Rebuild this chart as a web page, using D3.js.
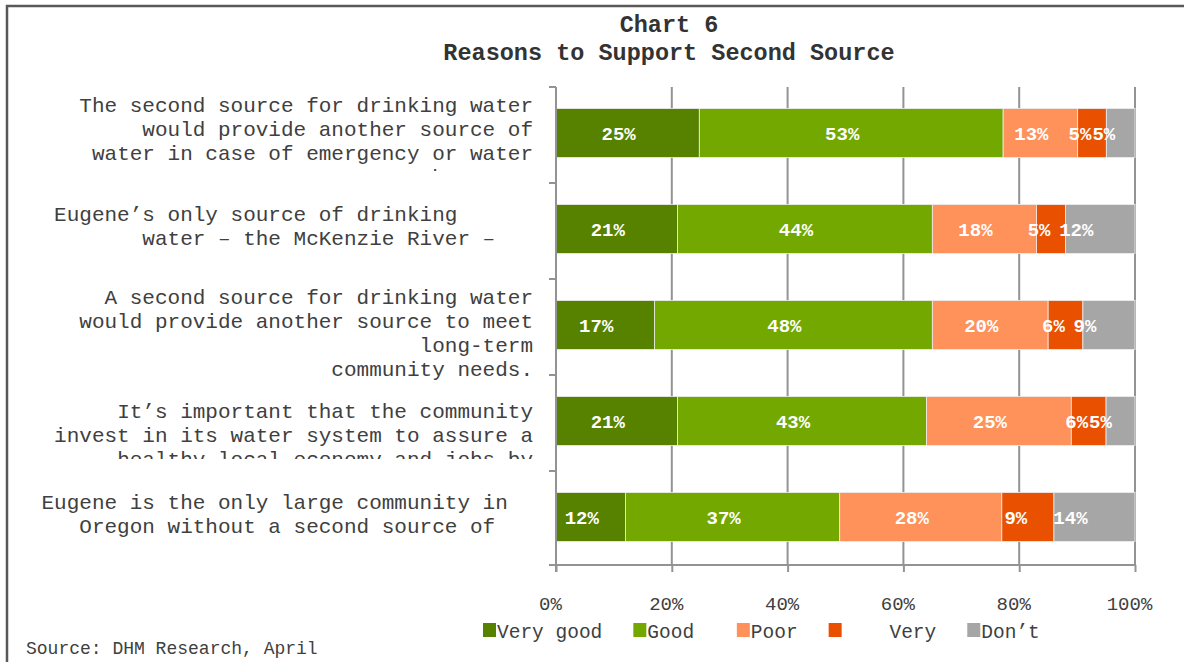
<!DOCTYPE html>
<html>
<head>
<meta charset="utf-8">
<style>
  body { margin: 0; background: #fff; }
  text { font-family: "Liberation Mono", "Courier New", monospace; }
</style>
</head>
<body>
<script src="https://cdn.jsdelivr.net/npm/d3@7/dist/d3.min.js"></script>
<script>
// --- data ---
var categories = ["Emergency backup", "Only source", "Long-term needs", "Local economy", "Only large community"];
var labelLines = [
    ["The second source for drinking water", "would provide another source of", "water in case of emergency or water", "shortage."],
    ["Eugene\u2019s only source of drinking      ", "water \u2013 the McKenzie River \u2013   "],
    ["A second source for drinking water", "would provide another source to meet", "long-term", "community needs."],
    ["It\u2019s important that the community", "invest in its water system to assure a", "healthy local economy and jobs by"],
    ["Eugene is the only large community in  ", "Oregon without a second source of   "]
];
// last line cut off by the label box in the original
var cutLast = [true, false, false, true, false];

var seriesNames = ["Very good", "Good", "Poor", "Very poor", "Don't know"];
var legendLabels = ["Very good", "Good ", "Poor", "    Very", "Don\u2019t"];
var veryGood = [25, 21, 17, 21, 12];
var good = [53, 44, 48, 43, 37];
var poor = [13, 18, 20, 25, 28];
var veryPoor = [5, 5, 6, 6, 9];
var dontKnow = [5, 12, 9, 5, 14];
var xTicks = [0, 20, 40, 60, 80, 100];

var colors = ["#568200", "#72a800", "#ff915a", "#e95100", "#a6a6a6"];
// label nudges per series (the original labels sit left of centre)
var labelShift = [-9, -9, -9, -12, -24];
var textColor = "#404040";

var width = 1184, height = 662;
var svg = d3.select("body").append("svg").attr("width", width).attr("height", height);

// frame
svg.append("path")
    .attr("d", "M7,662 V6 H1184")
    .attr("fill", "none").attr("stroke", "#595959").attr("stroke-width", 2.5);

// title
svg.append("text").attr("x", 669).attr("y", 32).attr("text-anchor", "middle")
    .attr("font-size", 23.5).attr("font-weight", "bold").attr("fill", "#333").text("Chart 6");
svg.append("text").attr("x", 669).attr("y", 60).attr("text-anchor", "middle")
    .attr("font-size", 23.5).attr("font-weight", "bold").attr("fill", "#333").text("Reasons to Support Second Source");

var rows = categories.map(function (c, i) {
    return { cat: c, "Very good": veryGood[i], "Good": good[i], "Poor": poor[i], "Very poor": veryPoor[i], "Don't know": dontKnow[i] };
});

var x = d3.scaleLinear().domain([0, 1]).range([556, 1135]);
var xPct = d3.scaleLinear().domain([0, 100]).range([556, 1135]);
var y = d3.scaleBand().domain(categories).range([85, 565]).paddingInner(0.49).paddingOuter(0.245);
var step = y.step();
var grid = "#939393";

// vertical gridlines
svg.append("g").selectAll("line").data(xTicks.slice(1)).join("line")
    .attr("x1", function (d) { return xPct(d); }).attr("x2", function (d) { return xPct(d); })
    .attr("y1", 87).attr("y2", 565)
    .attr("stroke", grid).attr("stroke-width", 2);

// stacked bars (100%)
var stacked = d3.stack().keys(seriesNames).offset(d3.stackOffsetExpand)(rows);

var layers = svg.append("g").selectAll("g").data(stacked).join("g")
    .attr("fill", function (d, i) { return colors[i]; });

layers.selectAll("rect").data(function (d) { return d; }).join("rect")
    .attr("x", function (d) { return x(d[0]); })
    .attr("width", function (d) { return x(d[1]) - x(d[0]); })
    .attr("y", function (d) { return y(d.data.cat); })
    .attr("height", y.bandwidth())
    .attr("stroke", "#ededed").attr("stroke-width", 0.8);

// value labels: nudged left like the original, then pushed apart so they don't collide
var labelG = svg.append("g");
categories.forEach(function (c, i) {
    var lastRight = -Infinity;
    stacked.forEach(function (layer, k) {
        var d = layer[i];
        var t = labelG.append("text")
            .attr("y", y(c) + y.bandwidth() / 2 + 7)
            .attr("text-anchor", "middle")
            .attr("font-size", 19).attr("font-weight", "bold").attr("fill", "#fff")
            .text(rows[i][layer.key] + "%");
        var w = t.node().getComputedTextLength();
        var cx = (x(d[0]) + x(d[1])) / 2 + labelShift[k];
        if (cx - w / 2 < lastRight + 1) cx = lastRight + 1 + w / 2;
        t.attr("x", cx);
        lastRight = cx + w / 2;
    });
});

// left axis line and category separators
svg.append("line").attr("x1", 556).attr("x2", 556).attr("y1", 87).attr("y2", 572)
    .attr("stroke", grid).attr("stroke-width", 2);
svg.append("g").selectAll("line").data(d3.range(categories.length)).join("line")
    .attr("x1", 549).attr("x2", 556)
    .attr("y1", function (i) { return 87 + i * step; })
    .attr("y2", function (i) { return 87 + i * step; })
    .attr("stroke", grid).attr("stroke-width", 2);

// bottom axis
var xAxis = d3.axisBottom(xPct).tickValues(xTicks).tickSize(7).tickSizeOuter(0)
    .tickFormat(function (d) { return d + "%"; });
var gx = svg.append("g").attr("transform", "translate(0,565)").call(xAxis);
gx.select(".domain").attr("stroke", grid).attr("stroke-width", 2).attr("d", "M549,0H1136");
gx.selectAll(".tick line").attr("stroke", grid).attr("stroke-width", 2);
gx.selectAll(".tick text").attr("fill", textColor).attr("font-size", 19)
    .attr("font-family", "Liberation Mono").attr("y", 39).attr("dy", "0.32em").attr("x", -6);

// category labels
var defs = svg.append("defs");
categories.forEach(function (c, i) {
    var lines = labelLines[i];
    var n = lines.length;
    var lh = 24.3;
    var center = y(c) + y.bandwidth() / 2 + (n === 2 ? -3 : (n === 3 ? 14 : 8));
    var first = center - (n - 1) * lh / 2 + 7;
    var g = svg.append("g");
    if (cutLast[i]) {
        defs.append("clipPath").attr("id", "clip" + i).append("rect")
            .attr("x", 0).attr("y", 85 + i * step).attr("width", 556).attr("height", step - 10);
        g.attr("clip-path", "url(#clip" + i + ")");
    }
    g.selectAll("text").data(lines).join("text")
        .attr("x", 533)
        .attr("y", function (d, j) { return first + j * lh; })
        .attr("text-anchor", "end")
        .attr("font-size", 21).attr("fill", textColor)
        .style("white-space", "pre")
        .text(function (d) { return d; });
});

// legend
var lx = 483;
legendLabels.forEach(function (l, i) {
    svg.append("rect").attr("x", lx).attr("y", 623).attr("width", 13).attr("height", 14).attr("fill", colors[i]);
    var t = svg.append("text").attr("x", lx + 14).attr("y", 638)
        .attr("font-size", 19.5).attr("fill", textColor).style("white-space", "pre").text(l);
    lx += 14 + t.node().getComputedTextLength() + 31;
});

// source
svg.append("text").attr("x", 26).attr("y", 654).attr("font-size", 18).attr("fill", textColor)
    .text("Source: DHM Research, April");
</script>
</body>
</html>
